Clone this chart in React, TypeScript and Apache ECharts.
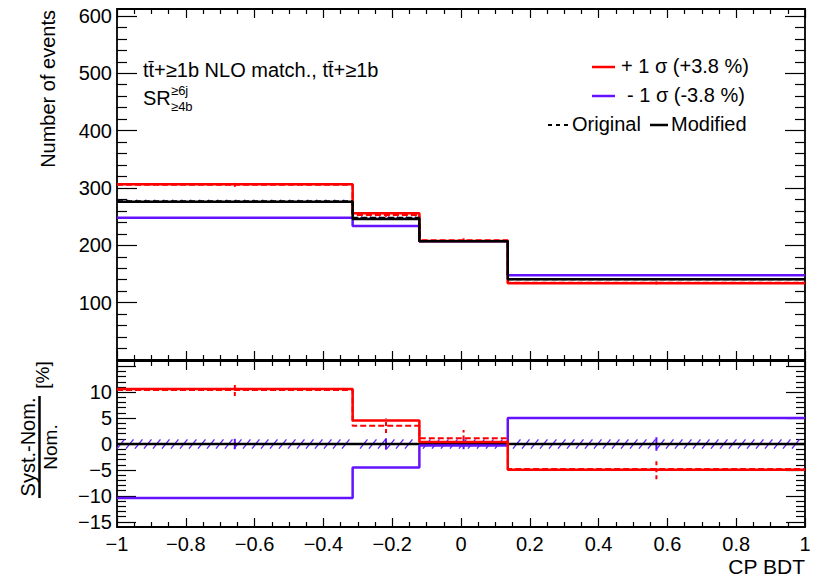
import React, { useEffect, useRef } from 'react';
import * as echarts from 'echarts';

// ---- data ----
const binEdges = [-1, -0.315, -0.121, 0.136, 1];

const nominalOriginal = [277, 248, 207.5, 141];
const nominalModified = [276, 246, 207, 140.7];
const nominalStatErr = [2.5, 2.2, 1.9, 1.3];
const upOriginal = [305.5, 253, 209, 134.5];
const upOriginalErr = [3.6, 3.3, 3.1, 2.7];
const upModified = [306.4, 256, 207.5, 133.7];
const downModified = [248, 233.7, 207, 147.7];

const ratioNominal = [0, 0, 0, 0];
const ratioNominalBand = [0.9, 0.9, 0.9, 0.9];
const ratioNominalErr = [1.0, 1.1, 1.0, 1.3];
const ratioUpOriginal = [10.4, 3.5, 1.1, -4.8];
const ratioUpOriginalErr = [1.15, 1.4, 1.6, 2.0];
const ratioUpModified = [10.6, 4.55, 0.4, -4.95];
const ratioDownModified = [-10.4, -4.55, -0.3, 5.0];

const legendUp = '+ 1 σ (+3.8 %)';
const legendDown = '- 1 σ (-3.8 %)';

// ---- styling ----
const RED = '#ff0000';
const BLUE = '#6412ff';
const HATCH = '#6425ff';
const FONT = '"Liberation Sans", Arial, sans-serif';
const LW = 2.5;

const stepData = (vals: number[]) =>
  binEdges.map((e, i) => [e, vals[Math.min(i, vals.length - 1)]]);

const minus = (s: string) => s.replace('-', '\u2212');

function stepSeries(xi: number, yi: number, vals: number[], color: string, dashed: boolean, name: string) {
  return {
    name,
    type: 'line',
    xAxisIndex: xi,
    yAxisIndex: yi,
    data: stepData(vals),
    step: 'end',
    symbol: 'none',
    silent: true,
    lineStyle: { color, width: dashed ? 2 : LW, type: dashed ? [6, 3] : 'solid' },
  };
}

function hatchSeries(xi: number, yi: number, centers: number[], errs: number[], spacing: number) {
  return {
    type: 'custom',
    xAxisIndex: xi,
    yAxisIndex: yi,
    silent: true,
    data: centers.map((v, i) => [binEdges[i], binEdges[i + 1], v - errs[i], v + errs[i]]),
    encode: { x: [0, 1], y: [2, 3] },
    renderItem: (params: any, api: any) => {
      const a = api.coord([api.value(0), api.value(3)]);
      const b = api.coord([api.value(1), api.value(2)]);
      const x0 = a[0];
      const x1 = b[0];
      const yt = a[1];
      const yb = b[1];
      const h = yb - yt;
      const w = h * 0.8;
      const children: any[] = [];
      let x = Math.ceil(x0 / spacing) * spacing;
      for (; x + w <= x1; x += spacing) {
        children.push({
          type: 'line',
          shape: { x1: x, y1: yb, x2: x + w, y2: yt },
          style: { stroke: HATCH, lineWidth: 1.4 },
        });
      }
      return { type: 'group', children };
    },
  };
}

function errorSeries(xi: number, yi: number, centers: number[], errs: number[], color: string, dashed: boolean) {
  return {
    type: 'custom',
    xAxisIndex: xi,
    yAxisIndex: yi,
    silent: true,
    data: centers.map((v, i) => [(binEdges[i] + binEdges[i + 1]) / 2, v - errs[i], v + errs[i]]),
    encode: { x: 0, y: [1, 2] },
    renderItem: (params: any, api: any) => {
      const a = api.coord([api.value(0), api.value(1)]);
      const b = api.coord([api.value(0), api.value(2)]);
      return {
        type: 'line',
        shape: { x1: a[0], y1: a[1], x2: b[0], y2: b[1] },
        style: { stroke: color, lineWidth: 2, lineDash: dashed ? [4, 3] : null },
      };
    },
  };
}

const tickStyle = { color: '#000', width: 1.2 };

function xTickAxis(grid: number, position: string, showLabels: boolean) {
  return {
    type: 'value',
    gridIndex: grid,
    position,
    min: -1,
    max: 1,
    interval: 0.2,
    axisLine: { show: false, onZero: false },
    axisTick: { show: true, inside: true, length: 9, lineStyle: tickStyle },
    minorTick: { show: true, splitNumber: 4, length: 5, lineStyle: tickStyle },
    splitLine: { show: false },
    minorSplitLine: { show: false },
    axisLabel: {
      show: showLabels,
      margin: 7,
      fontSize: 20,
      fontFamily: FONT,
      color: '#000',
      showMinLabel: true,
      showMaxLabel: true,
      formatter: (v: number) => minus(String(+v.toFixed(1))),
    },
  };
}

function yTickAxis(grid: number, position: string, min: number, max: number, interval: number, split: number, major: number, minor: number, showLabels: boolean, hide0: boolean) {
  return {
    type: 'value',
    gridIndex: grid,
    position,
    min,
    max,
    interval,
    axisLine: { show: false, onZero: false },
    axisTick: { show: true, inside: true, length: major, lineStyle: tickStyle },
    minorTick: { show: true, splitNumber: split, length: minor, lineStyle: tickStyle },
    splitLine: { show: false },
    minorSplitLine: { show: false },
    axisLabel: {
      show: showLabels,
      margin: 5,
      fontSize: 20,
      fontFamily: FONT,
      color: '#000',
      formatter: (v: number) => (hide0 && v === 0) || v === 15 ? '' : minus(String(v)),
    },
  };
}

const hiddenX = (grid: number) => ({ type: 'value', gridIndex: grid, min: -1, max: 1, show: false, axisLine: { onZero: false } });

export default function App() {
  const ref = useRef<HTMLDivElement>(null);
  useEffect(() => {
    if (!ref.current) return;
    const chart = echarts.init(ref.current, undefined, { renderer: 'svg' });
    const topPx = 351 / 612;
    const botPx = 166 / 32;
    const txt = (text: string, x: number, y: number, size: number, align: string, rotation = 0) => ({
      type: 'text', x, y, rotation,
      style: { text, font: `${size}px ${FONT}`, fill: '#000', textAlign: align, textVerticalAlign: 'middle', align, verticalAlign: 'middle' },
    });
    const option: any = {
      animation: false,
      backgroundColor: '#fff',
      grid: [
        { left: 117, top: 9, width: 688, height: 351, show: true, borderColor: '#000', borderWidth: 1.8, backgroundColor: 'transparent' },
        { left: 117, top: 9 + 12 * topPx, width: 688, height: 600 * topPx },
        { left: 117, top: 361, width: 688, height: 166, show: true, borderColor: '#000', borderWidth: 1.8, backgroundColor: 'transparent' },
        { left: 117, top: 361 + botPx, width: 688, height: 30 * botPx },
      ],
      xAxis: [
        xTickAxis(0, 'bottom', false),
        xTickAxis(0, 'top', false),
        xTickAxis(2, 'bottom', true),
        xTickAxis(2, 'top', false),
        hiddenX(1),
        hiddenX(3),
      ],
      yAxis: [
        { type: 'value', gridIndex: 0, min: 0, max: 612, show: false, axisLine: { onZero: false } },
        yTickAxis(1, 'left', 0, 600, 100, 5, 20, 10, true, true),
        yTickAxis(1, 'right', 0, 600, 100, 5, 20, 10, false, true),
        { type: 'value', gridIndex: 2, min: -16, max: 16, show: false, axisLine: { onZero: false } },
        yTickAxis(3, 'left', -15, 15, 5, 5, 19, 9, true, false),
        yTickAxis(3, 'right', -15, 15, 5, 5, 19, 9, false, false),
      ],
      series: [
        // top panel
        stepSeries(0, 0, downModified, BLUE, false, '-1 sigma modified'),
        stepSeries(0, 0, upModified, RED, false, '+1 sigma modified'),
        stepSeries(0, 0, upOriginal, RED, true, '+1 sigma original'),
        stepSeries(0, 0, nominalModified, '#000', false, 'nominal modified'),
        stepSeries(0, 0, nominalOriginal, '#000', true, 'nominal original'),
        hatchSeries(0, 0, nominalOriginal, nominalStatErr, 9),
        errorSeries(0, 0, upOriginal, upOriginalErr, RED, true),
        // ratio panel
        hatchSeries(2, 3, ratioNominal, ratioNominalBand, 9),
        stepSeries(2, 3, ratioNominal, '#000', false, 'ratio nominal'),
        stepSeries(2, 3, ratioDownModified, BLUE, false, 'ratio -1 sigma'),
        stepSeries(2, 3, ratioUpModified, RED, false, 'ratio +1 sigma'),
        stepSeries(2, 3, ratioUpOriginal, RED, true, 'ratio +1 sigma original'),
        errorSeries(2, 3, ratioNominal, ratioNominalErr, BLUE, false),
        errorSeries(2, 3, ratioUpOriginal, ratioUpOriginalErr, RED, true),
      ],
      graphic: [
        // axis titles
        txt('Number of events', 48, 10, 20, 'right', Math.PI / 2),
        txt('CP BDT', 805, 566, 21, 'right'),
        txt('Syst.-Nom.', 28, 447, 20, 'center', Math.PI / 2),
        txt('Nom.', 50, 447, 19, 'center', Math.PI / 2),
        { type: 'line', shape: { x1: 39.5, y1: 396, x2: 39.5, y2: 498 }, style: { stroke: '#000', lineWidth: 2.5 } },
        txt('[%]', 42, 375, 19, 'center', Math.PI / 2),
        // top-left labels
        txt('tt\u0304+\u22651b NLO match., tt\u0304+\u22651b', 143, 70, 20, 'left'),
        txt('SR', 143, 98, 20, 'left'),
        txt('\u22656j', 171, 90, 13, 'left'),
        txt('\u22654b', 171, 106, 13, 'left'),
        // legend
        { type: 'line', shape: { x1: 592, y1: 67, x2: 615, y2: 67 }, style: { stroke: RED, lineWidth: 2.5 } },
        txt(legendUp, 621, 66, 20, 'left'),
        { type: 'line', shape: { x1: 592, y1: 96, x2: 615, y2: 96 }, style: { stroke: BLUE, lineWidth: 2.5 } },
        txt(legendDown, 627, 95, 20, 'left'),
        { type: 'line', shape: { x1: 548, y1: 125, x2: 568, y2: 125 }, style: { stroke: '#000', lineWidth: 2, lineDash: [4, 4] } },
        txt('Original', 572, 124, 20, 'left'),
        { type: 'line', shape: { x1: 650, y1: 125, x2: 668, y2: 125 }, style: { stroke: '#000', lineWidth: 2.5 } },
        txt('Modified', 671, 124, 20, 'left'),
      ],
    };
    chart.setOption(option);
    return () => chart.dispose();
  }, []);
  return <div ref={ref} style={{ position: 'fixed', left: 0, top: 0, width: 816, height: 578 }} />;
}
